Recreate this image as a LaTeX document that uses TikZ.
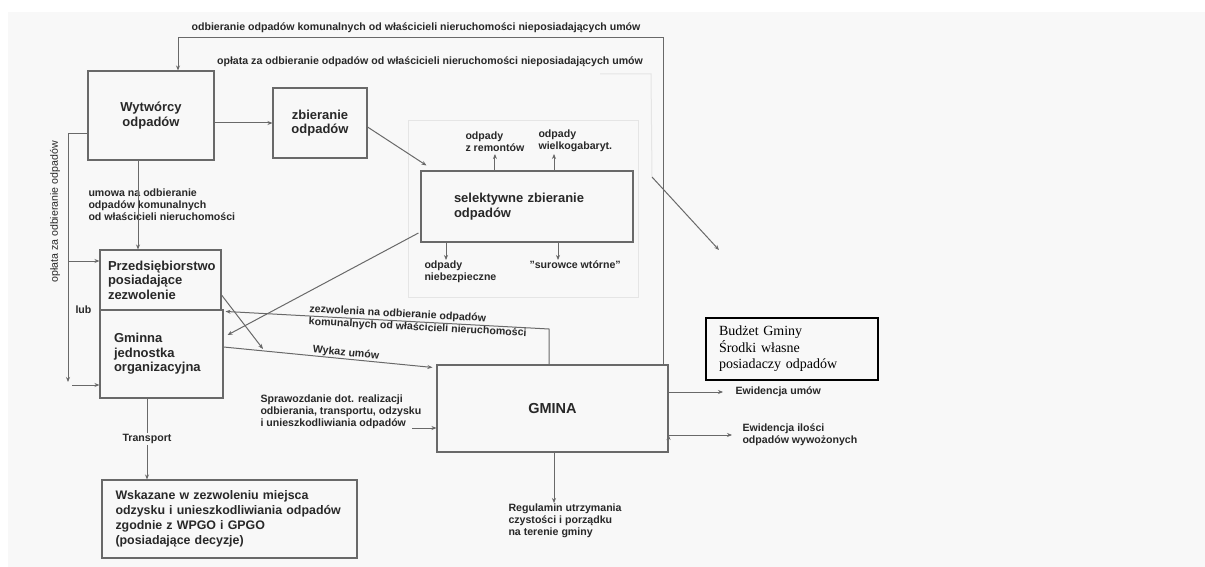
\documentclass[tikz,border=0pt]{standalone}
\usepackage{fontspec}
\setmainfont{Liberation Sans}
\newfontfamily\timesfont{Liberation Serif}
\usetikzlibrary{arrows.meta}
\usetikzlibrary{calc}
\usetikzlibrary{positioning}
\definecolor{ln}{RGB}{105,105,105}
\definecolor{tx}{RGB}{40,40,40}
\definecolor{bg}{RGB}{248,248,248}

\begin{document}
\begin{tikzpicture}[x=1pt,y=-1pt,>={Stealth[length=5pt,width=4pt]},line width=1pt]
	\tikzset{
		B/.style={draw=ln,line width=1.1pt,inner sep=0pt,text=tx,font=\bfseries\fontsize{13}{14.5}\selectfont,align=center},
		L/.style={inner sep=0pt,text=tx,font=\bfseries\fontsize{10.6}{12}\selectfont,align=left},
		A/.style={draw=ln,->},
		faint/.style={draw=gray!20,line width=1pt},
	}
	\useasboundingbox (0,0) rectangle (1205,567);
	\fill[bg] (8,12) rectangle (1205,567);
	\draw[faint] (408,121) rectangle (638,297);
	
	% boxes
	\node[B,minimum width=126,minimum height=89] (wyt) at (151,115.5) {Wytwórcy\\odpadów};
	\node[B,minimum width=94,minimum height=70] (zbier) at (320,123) {zbieranie\\odpadów};
	\node[B,minimum width=212,minimum height=71,text width=146,align=left] (sel) at (527,206.5) {selektywne zbieranie\\odpadów};
	\node[B,minimum width=121,minimum height=60,text width=105,align=left] (przed) at (160.5,280) {Przedsiębiorstwo\\posiadające\\zezwolenie};
	\node[B,minimum width=123,minimum height=88,text width=95,align=left] (gmin) at (161.5,354) {Gminna\\jednostka\\organizacyjna};
	\node[B,minimum width=255,minimum height=78,text width=228,align=left,font=\bfseries\fontsize{12.4}{15}\selectfont] (wsk) at (229.5,519) {Wskazane w zezwoleniu miejsca\\odzysku i unieszkodliwiania odpadów\\zgodnie z WPGO i GPGO\\(posiadające decyzje)};
	\node[B,minimum width=231,minimum height=87,font=\bfseries\fontsize{14.5}{16}\selectfont] (gmina) at (552.5,408.5) {GMINA};
	\node[draw=black,line width=1.3pt,minimum width=172,minimum height=62,text width=146,align=left,inner sep=0pt,font=\timesfont\fontsize{14}{16.5}\selectfont] (budzet) at (792,349) {Budżet Gminy\\Środki własne\\posiadaczy odpadów};
	
	% labels
	\node[L] (odb) at (416,28) {odbieranie odpadów komunalnych od właścicieli nieruchomości nieposiadających umów};
	\node[L] (opl) at (430,62) {opłata za odbieranie odpadów od właścicieli nieruchomości nieposiadających umów};
	\node[L,anchor=west] (umowa) at (88,205) {umowa na odbieranie\\odpadów komunalnych\\od właścicieli nieruchomości};
	\node[L,rotate=90,font=\fontsize{10.6}{12}\selectfont] (oplL) at (55,212) {opłata za odbieranie odpadów};
	\node[L] (lub) at (83.5,310) {lub};
	\node[L,rotate=-5.7] (wykaz) at (346,353) {Wykaz umów};
	\node[L,rotate=-3,font=\bfseries\fontsize{10.6}{12.5}\selectfont] (zezw) at (418,321.5) {zezwolenia na odbieranie odpadów\\komunalnych od właścicieli nieruchomości};
	\node[L,anchor=west] (spr) at (260,411.5) {Sprawozdanie dot. realizacji\\odbierania, transportu, odzysku\\i unieszkodliwiania odpadów};
	\node[L,anchor=north west] (reg) at (508,503) {Regulamin utrzymania\\czystości i porządku\\na terenie gminy};
	\node[L,anchor=west] (ew1) at (735,392) {Ewidencja umów};
	\node[L,anchor=west] (ew2) at (742,435) {Ewidencja ilości\\odpadów wywożonych};
	\node[L,anchor=south west,inner ysep=2pt] (rem) at (465,154) {odpady\\z remontów};
	\node[L,anchor=south west,inner ysep=2pt] (wiel) at (538,154) {odpady\\wielkogabaryt.};
	\node[L,anchor=north west] (nieb) at (424,260) {odpady\\niebezpieczne};
	\node[L,anchor=north west] (sur) at (529,260) {"surowce wtórne"};
	
	% helper points
	\coordinate (tr) at (663,38);
	\coordinate (tl) at (178,38);
	\coordinate (lt) at (68,134);
	\coordinate (lb) at (68,382);
	\coordinate (lp) at (68,261);
	\coordinate (lg) at (72,385);
	\coordinate (wp) at ($(wyt.south)+(-13,0)$);
	\coordinate (pw) at (263,349);
	\coordinate (zz) at (549,329);
	\coordinate (sa) at (412,428);
	\coordinate (rg) at (554,503);
	\coordinate (tp) at ($(gmin.south)+(-14.5,0)$);
	\coordinate (wx) at ($(wiel.south west)+(16,0)$);
	\coordinate (nx) at ($(nieb.north west)+(22,0)$);
	\coordinate (sx) at ($(sur.north west)+(29,0)$);
	\coordinate (d1) at (652,177);
	\coordinate (d2) at (719,250);
	
	\draw[A] (gmina.north -| tr) -- (tr) -- (tl) -- (wyt.north -| tl);
	\draw[faint] (600,74) -- (651,74) -- (d1);
	\draw[A] (d1) -- (d2);
	\draw[A] (wyt.west |- lt) -- (lt) -- (lb);
	\draw[A] (lp) -- (przed.west |- lp);
	\draw[A] (lg) -- (gmin.west |- lg);
	
	\path[A]
	(wyt.east |- zbier.west) edge (zbier.west)
	($(zbier.east)+(0,4)$) edge ($(sel.north west)+(6,-5)$)
	(sel.north -| rem.south) edge (rem.south)
	(sel.north -| wx) edge (wx)
	(sel.south -| nx) edge (nx)
	(sel.south -| sx) edge (sx)
	($(sel.west)+(-2,26.5)$) edge ($(gmin.east)+(4,-19)$)
	(wp) edge (przed.north -| wp)
	($(przed.east)+(0,15)$) edge (pw)
	($(gmin.east)+(0,-7)$) edge ($(gmina.north west)+(-4,3)$)
	(sa) edge (gmina.west |- sa)
	(gmina.south -| rg) edge (rg)
	(gmina.east |- ew1) edge ($(ew1.west)+(-12,0)$)
	(gmina.east |- ew2) edge ($(ew2.west)+(-10,0)$);
	
	\draw[A] (gmina.north -| zz) -- (zz) -- ($(gmin.north east)+(2,2)$);
	\draw[A] (tp) -- node[L,fill=bg,inner sep=1pt] {Transport} (wsk.north -| tp);
\end{tikzpicture}
\end{document}
